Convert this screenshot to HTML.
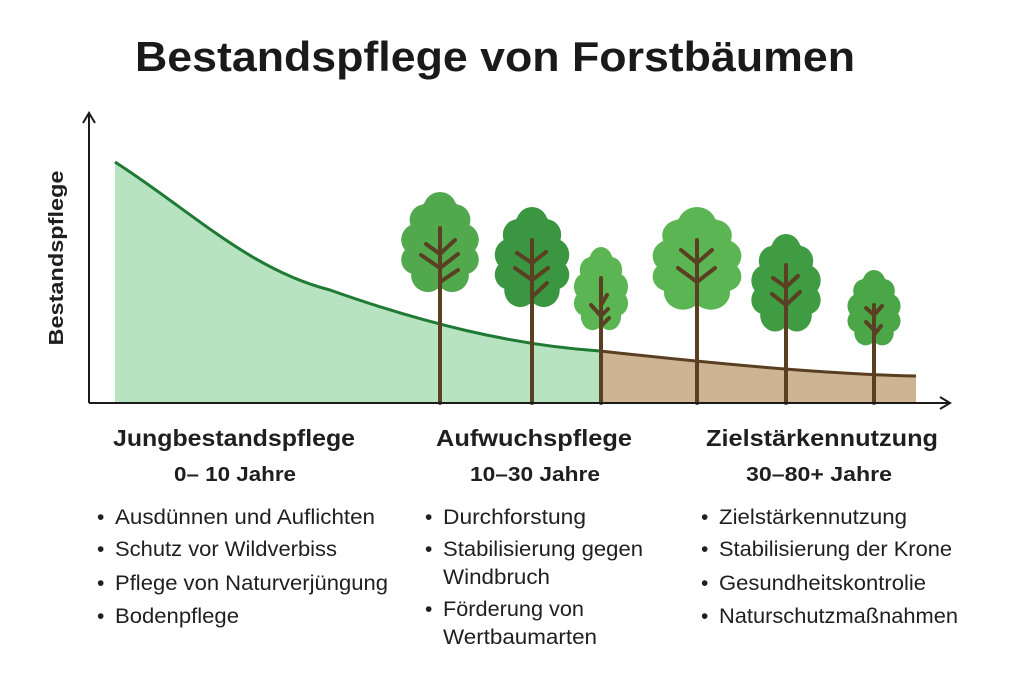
<!DOCTYPE html>
<html><head><meta charset="utf-8"><style>
html,body{margin:0;padding:0;background:#fff}
svg{display:block}
text{font-family:"Liberation Sans",sans-serif;fill:#1f1f1f}
</style></head><body>
<svg width="1024" height="683" viewBox="0 0 1024 683" xmlns="http://www.w3.org/2000/svg">
<defs>
<g id="crown">
<ellipse cx="0" cy="65" rx="42" ry="58"/>
<circle cx="0" cy="22" r="22"/>
<circle cx="-20" cy="36" r="20"/><circle cx="20" cy="36" r="20"/>
<circle cx="-30" cy="62" r="21"/><circle cx="30" cy="62" r="21"/>
<circle cx="-32" cy="88" r="19"/><circle cx="32" cy="88" r="19"/>
<circle cx="-16" cy="108" r="22"/><circle cx="16" cy="108" r="22"/>
</g>
</defs>
<text x="495" y="71" text-anchor="middle" font-size="42" font-weight="bold" textLength="720" lengthAdjust="spacingAndGlyphs" style="fill:#1a1a1a">Bestandspflege von Forstbäumen</text>

<path d="M115,162 C190,210 250,270 330,290 C420,322 510,345 600,351 L600,403 L115,403 Z" fill="#b8e3c1"/>
<path d="M600,351 C700,362 820,374 916,376 L916,403 L600,403 Z" fill="#cdb594"/>
<path d="M115,162 C190,210 250,270 330,290 C420,322 510,345 600,351" fill="none" stroke="#1f7a35" stroke-width="3"/>
<path d="M600,351 C700,362 820,374 916,376" fill="none" stroke="#5a3e22" stroke-width="3"/>

<g>
<use href="#crown" transform="translate(440,192) scale(0.76,0.77)" fill="#52a84c"/>
<use href="#crown" transform="translate(532,207) scale(0.73,0.77)" fill="#3a9640"/>
<use href="#crown" transform="translate(601,247) scale(0.53,0.64)" fill="#5ab552"/>
<use href="#crown" transform="translate(697,207) scale(0.87,0.79)" fill="#5ab552"/>
<use href="#crown" transform="translate(786,234) scale(0.68,0.75)" fill="#3f9c42"/>
<use href="#crown" transform="translate(874,270) scale(0.52,0.58)" fill="#4aa646"/>
</g>
<g stroke="#5a3f22" stroke-width="4" fill="none" stroke-linecap="round">
<path d="M440,228 V403 M440,254 L426,244 M440,254 L455,240 M440,268 L421,255 M440,268 L458,254 M440,282 L458,270"/>
<path d="M532,240 V403 M532,263 L517,253 M532,263 L546,252 M532,280 L515,268 M532,280 L548,268 M532,297 L547,283"/>
<path d="M601,278 V403 M601,305 L607,295 M601,316 L591,305 M601,316 L608,309 M601,326 L609,318"/>
<path d="M697,240 V403 M697,263 L681,250 M697,263 L712,250 M697,282 L678,268 M697,282 L715,268"/>
<path d="M786,265 V403 M786,287 L773,278 M786,287 L798,276 M786,305 L772,294 M786,305 L800,292"/>
<path d="M874,305 V403 M874,315 L866,308 M874,315 L882,306 M874,330 L866,322 M874,335 L881,326"/>
</g>

<g stroke="#1a1a1a" stroke-width="2" fill="none">
<path d="M89,403 V113 M83,123 L89,113 L95,123"/>
<path d="M89,403 H950 M940,397 L950,403 L940,409"/>
</g>
<text transform="translate(63,258) rotate(-90)" text-anchor="middle" font-size="20" font-weight="bold" textLength="175" lengthAdjust="spacingAndGlyphs">Bestandspflege</text>

<g font-size="23" font-weight="bold">
<text x="113" y="446" textLength="242" lengthAdjust="spacingAndGlyphs">Jungbestandspflege</text>
<text x="436" y="446" textLength="196" lengthAdjust="spacingAndGlyphs">Aufwuchspflege</text>
<text x="706" y="446" textLength="232" lengthAdjust="spacingAndGlyphs">Zielstärkennutzung</text>
</g>
<g font-size="20" font-weight="bold">
<text x="174" y="481" textLength="122" lengthAdjust="spacingAndGlyphs">0– 10 Jahre</text>
<text x="470" y="481" textLength="130" lengthAdjust="spacingAndGlyphs">10–30 Jahre</text>
<text x="746" y="481" textLength="146" lengthAdjust="spacingAndGlyphs">30–80+ Jahre</text>
</g>
<g font-size="21">
<text x="97" y="524">•</text><text x="115" y="524" textLength="260" lengthAdjust="spacingAndGlyphs">Ausdünnen und Auflichten</text>
<text x="97" y="556">•</text><text x="115" y="556" textLength="222" lengthAdjust="spacingAndGlyphs">Schutz vor Wildverbiss</text>
<text x="97" y="590">•</text><text x="115" y="590" textLength="273" lengthAdjust="spacingAndGlyphs">Pflege von Naturverjüngung</text>
<text x="97" y="623">•</text><text x="115" y="623" textLength="124" lengthAdjust="spacingAndGlyphs">Bodenpflege</text>

<text x="425" y="524">•</text><text x="443" y="524" textLength="143" lengthAdjust="spacingAndGlyphs">Durchforstung</text>
<text x="425" y="556">•</text><text x="443" y="556" textLength="200" lengthAdjust="spacingAndGlyphs">Stabilisierung gegen</text>
<text x="443" y="584" textLength="107" lengthAdjust="spacingAndGlyphs">Windbruch</text>
<text x="425" y="616">•</text><text x="443" y="616" textLength="141" lengthAdjust="spacingAndGlyphs">Förderung von</text>
<text x="443" y="644" textLength="154" lengthAdjust="spacingAndGlyphs">Wertbaumarten</text>

<text x="701" y="524">•</text><text x="719" y="524" textLength="188" lengthAdjust="spacingAndGlyphs">Zielstärkennutzung</text>
<text x="701" y="556">•</text><text x="719" y="556" textLength="233" lengthAdjust="spacingAndGlyphs">Stabilisierung der Krone</text>
<text x="701" y="590">•</text><text x="719" y="590" textLength="207" lengthAdjust="spacingAndGlyphs">Gesundheitskontrolie</text>
<text x="701" y="623">•</text><text x="719" y="623" textLength="239" lengthAdjust="spacingAndGlyphs">Naturschutzmaßnahmen</text>
</g>
</svg>
</body></html>
